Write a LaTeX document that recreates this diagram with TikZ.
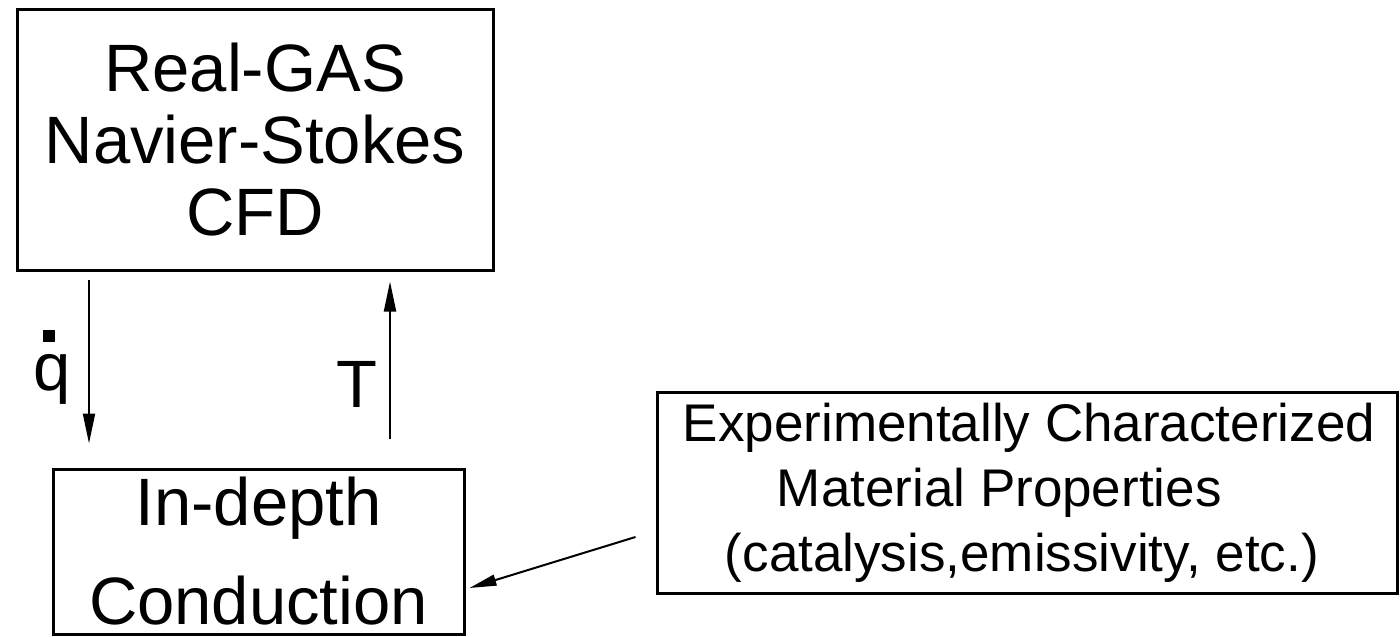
\documentclass[tikz,border=0pt]{standalone}
\usepackage{fontspec}
\setmainfont{Liberation Sans}
\usetikzlibrary{arrows.meta}
\begin{document}
\begin{tikzpicture}[x=1pt,y=-1pt,
  box/.style={draw,line width=3pt,rectangle,inner sep=0pt,align=center},
  arr/.style={line width=2pt,-{Triangle[length=30pt,width=12pt]}},
  lbl/.style={inner sep=0pt,anchor=base}]
\useasboundingbox (0,0) rectangle (1400,637);
\node[box,minimum width=476pt,minimum height=261pt,font=\fontsize{67}{72}\selectfont] (cfd) at (255,139.5)
  {Real-GAS\\Navier-Stokes\\CFD};
\node[box,minimum width=411pt,minimum height=165pt,font=\fontsize{67}{99}\selectfont] (cond) at (258.5,551.5)
  {In-depth\\Conduction};
\node[box,minimum width=740pt,minimum height=201pt,font=\fontsize{53}{65}\selectfont,align=left] (mat) at (1027,492.5)
  {\hspace*{4pt}Experimentally Characterized\\\hspace*{98pt}Material Properties\\\hspace*{46pt}(catalysis,emissivity, etc.)};
\draw[arr] ([xshift=-166pt,yshift=-8pt]cfd.south) -- ([xshift=-169.5pt,yshift=24pt]cond.north);
\draw[arr] ([xshift=131.5pt,yshift=29pt]cond.north) -- ([xshift=135pt,yshift=-10pt]cfd.south);
\draw[line width=2pt,-{Triangle[length=27pt,width=11pt]}] ([xshift=-20pt,yshift=-44.5pt]mat.west) -- ([xshift=4pt,yshift=-36.5pt]cond.east);
\node[lbl,font=\fontsize{67}{72}\selectfont] (qd) at (52,390)
  {\makebox[0pt][l]{\hspace{10pt}\raisebox{48pt}{\rule{12pt}{12pt}}}q};
\node[lbl,font=\fontsize{67}{72}\selectfont] (tl) at (357,407) {T};
\end{tikzpicture}
\end{document}
